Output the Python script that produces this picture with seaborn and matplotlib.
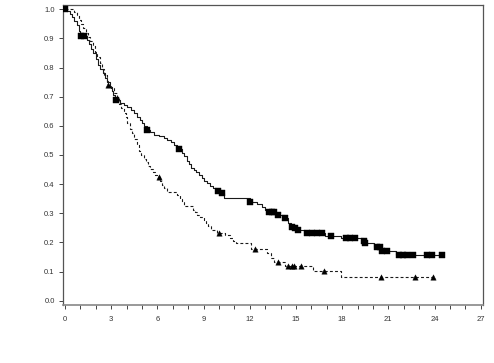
import numpy as np
import pandas as pd
import matplotlib
matplotlib.use("Agg")
import matplotlib.pyplot as plt
import seaborn as sns

# Solid curve (squares): step times and survival
solid_t = [0, 0.15, 0.3, 0.45, 0.6, 0.75, 0.9, 1.0, 1.4, 1.55, 1.7, 1.85, 2.0, 2.15, 2.3,
           2.45, 2.6, 2.75, 2.9, 3.05, 3.15, 3.25, 3.55, 3.8, 4.05, 4.3, 4.5, 4.7, 4.85,
           5.0, 5.15, 5.3, 5.55, 5.8, 6.1, 6.4, 6.65, 6.9, 7.1, 7.25, 7.4, 7.6, 7.75, 7.9,
           8.05, 8.2, 8.35, 8.5, 8.7, 8.9, 9.05, 9.2, 9.4, 9.6, 9.8, 10.1, 10.35, 12.0,
           12.5, 12.8, 13.0, 13.2, 13.7, 14.2, 14.5, 14.65, 14.9, 15.1, 15.5, 16.9, 17.9,
           19.35, 19.5, 20.1, 20.5, 21.5, 24.46]
solid_s = [1.0, 0.995, 0.985, 0.975, 0.96, 0.945, 0.925, 0.907, 0.895, 0.88, 0.865, 0.85,
           0.83, 0.81, 0.795, 0.78, 0.765, 0.75, 0.735, 0.72, 0.705, 0.689, 0.68, 0.672,
           0.665, 0.655, 0.645, 0.632, 0.62, 0.61, 0.598, 0.586, 0.578, 0.57, 0.565, 0.56,
           0.552, 0.545, 0.535, 0.527, 0.52, 0.508, 0.495, 0.48, 0.468, 0.456, 0.447, 0.44,
           0.43, 0.42, 0.41, 0.403, 0.395, 0.385, 0.378, 0.37, 0.352, 0.339, 0.333, 0.322,
           0.31, 0.303, 0.294, 0.285, 0.265, 0.254, 0.249, 0.244, 0.231, 0.222, 0.216,
           0.205, 0.197, 0.183, 0.172, 0.157, 0.157]
solid_cens = [0, 1.02, 1.25, 3.3, 5.3, 7.4, 9.95, 10.2, 12.0, 13.27, 13.42, 13.57, 13.85,
              14.29, 14.72, 14.94, 15.15, 15.69, 16.02, 16.34, 16.67, 17.25, 18.25, 18.5,
              18.83, 19.4, 19.5, 20.24, 20.45, 20.56, 20.89, 21.71, 21.97, 22.19, 22.62,
              23.53, 23.81, 24.46]

# Dashed curve (triangles)
dash_t = [0, 0.6, 0.75, 0.9, 1.05, 1.2, 1.35, 1.5, 1.65, 1.8, 1.95, 2.1, 2.25, 2.4, 2.55,
          2.7, 2.8, 3.0, 3.2, 3.35, 3.5, 3.65, 3.8, 3.95, 4.05, 4.2, 4.35, 4.5, 4.65, 4.8,
          4.95, 5.1, 5.25, 5.4, 5.55, 5.7, 5.85, 6.0, 6.15, 6.3, 6.45, 6.6, 7.3, 7.45, 7.6,
          7.75, 8.3, 8.45, 8.6, 8.8, 9.0, 9.15, 9.3, 9.5, 9.9, 10.4, 10.7, 10.9, 11.1, 12.1,
          13.1, 13.4, 13.6, 14.3, 16.1, 17.9, 23.92]
dash_s = [1.0, 0.99, 0.98, 0.965, 0.95, 0.935, 0.92, 0.905, 0.89, 0.875, 0.855, 0.835,
          0.815, 0.795, 0.775, 0.755, 0.742, 0.73, 0.712, 0.695, 0.675, 0.66, 0.645, 0.63,
          0.61, 0.59, 0.575, 0.555, 0.535, 0.515, 0.5, 0.487, 0.475, 0.463, 0.452, 0.442,
          0.432, 0.423, 0.41, 0.398, 0.386, 0.374, 0.363, 0.35, 0.337, 0.325, 0.311, 0.303,
          0.295, 0.286, 0.277, 0.265, 0.255, 0.243, 0.233, 0.225, 0.215, 0.206, 0.197,
          0.178, 0.165, 0.145, 0.132, 0.12, 0.103, 0.082, 0.082]
dash_cens = [2.8, 6.08, 10.0, 12.34, 13.85, 14.46, 14.72, 14.89, 15.32, 16.82, 20.5,
             22.73, 23.92]

x_ticks = list(range(0, 28, 3))
y_ticks = [round(0.1 * i, 1) for i in range(11)]


def step_at(ts, ss, q):
    idx = np.searchsorted(np.array(ts), np.array(q), side="right") - 1
    return np.array(ss)[np.clip(idx, 0, len(ss) - 1)]


sns.set_style("white")
plt.rcParams['font.family'] = ['Liberation Sans', 'DejaVu Sans']

fig = plt.figure(figsize=(4.94, 3.63), dpi=100)
ax = fig.add_axes([63 / 494, 58 / 363, 420 / 494, 300 / 363])

df_solid = pd.DataFrame({"t": solid_t, "s": solid_s})
df_dash = pd.DataFrame({"t": dash_t, "s": dash_s})

sns.lineplot(data=df_solid, x="t", y="s", ax=ax, drawstyle="steps-post",
             color="#1a1a1a", lw=0.8, estimator=None, sort=False)
sns.lineplot(data=df_dash, x="t", y="s", ax=ax, drawstyle="steps-post",
             color="#1a1a1a", lw=0.8, estimator=None, sort=False)
ax.lines[-1].set_linestyle((0, (2.6, 2.0)))

cs = pd.DataFrame({"t": solid_cens, "s": step_at(solid_t, solid_s, solid_cens)})
cd = pd.DataFrame({"t": dash_cens, "s": step_at(dash_t, dash_s, dash_cens)})
sns.scatterplot(data=cs, x="t", y="s", ax=ax, marker="s", s=13, color="black",
                edgecolor="black", linewidth=0.3, zorder=5)
sns.scatterplot(data=cd, x="t", y="s", ax=ax, marker="^", s=15, color="black",
                edgecolor="black", linewidth=0.3, zorder=5)

ax.set_xlim(-0.13, 27.15)
ax.set_ylim(-0.015, 1.015)
ax.set_xticks(x_ticks)
ax.set_xticks(range(0, 28), minor=True)
ax.set_yticks(y_ticks)
ax.set_yticklabels([f"{v:.1f}" for v in y_ticks])
ax.set_xlabel("")
ax.set_ylabel("")
ax.tick_params(axis="both", which="both", direction="out", length=3, width=0.7,
               color="#444444", labelsize=5.5, labelcolor="#333333", pad=3)
ax.tick_params(axis="x", which="both", bottom=True, pad=5)
ax.tick_params(axis="y", left=True)
for side in ["left", "right", "top", "bottom"]:
    ax.spines[side].set_visible(True)
    ax.spines[side].set_color("#555555")
    ax.spines[side].set_linewidth(0.9)
ax.spines["bottom"].set_color("#888888")
ax.spines["bottom"].set_linewidth(1.2)

fig.savefig("out.png", dpi=100)
